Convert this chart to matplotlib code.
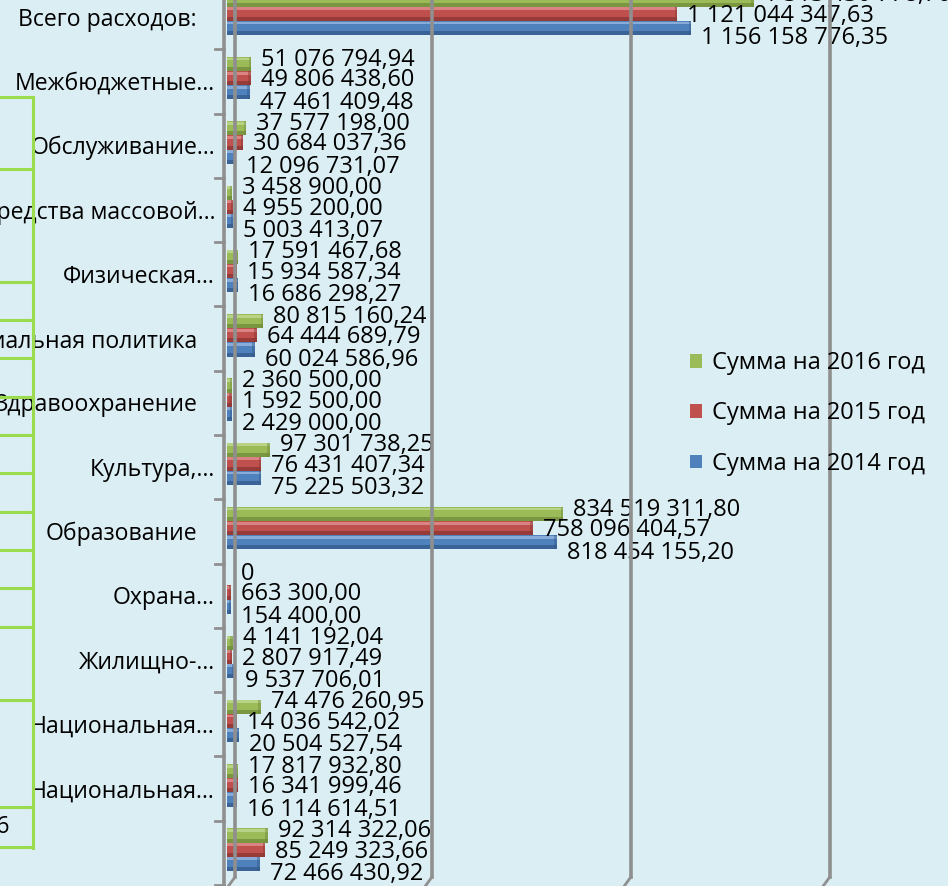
import matplotlib
matplotlib.use("Agg")
import matplotlib.pyplot as plt
import matplotlib.transforms as mtransforms
from matplotlib.lines import Line2D
from matplotlib.patches import Patch

plt.rcParams['font.family'] = ['Open Sans', 'DejaVu Sans']

categories = ["Всего расходов:", "Межбюджетные…", "Обслуживание…", "Средства массовой…",
              "Физическая…", "Социальная политика", "Здравоохранение", "Культура,…",
              "Образование", "Охрана…", "Жилищно-…", "Национальная…", "Национальная…", ""]
truncated = [False, True, True, True, True, False, False, True, False, True, True, True, True, False]

s2016 = [1313430778.70, 51076794.94, 37577198.00, 3458900.00, 17591467.68, 80815160.24,
         2360500.00, 97301738.25, 834519311.80, 0.0, 4141192.04, 74476260.95,
         17817932.80, 92314322.06]
s2015 = [1121044347.63, 49806438.60, 30684037.36, 4955200.00, 15934587.34, 64444689.79,
         1592500.00, 76431407.34, 758096404.57, 663300.00, 2807917.49, 14036542.02,
         16341999.46, 85249323.66]
s2014 = [1156158776.35, 47461409.48, 12096731.07, 5003413.07, 16686298.27, 60024586.96,
         2429000.00, 75225503.32, 818454155.20, 154400.00, 9537706.01, 20504527.54,
         16114614.51, 72466430.92]
series_names = ["Сумма на 2016 год", "Сумма на 2015 год", "Сумма на 2014 год"]
x_grid = [0, 500e6, 1000e6, 1500e6]
x_max = 2000e6

W, H = 948, 886
BG = "#dbeef4"
colors = ["#9bbb59", "#c0504d", "#4f81bd"]
dark = ["#6f8a3a", "#8a3533", "#345b8c"]
light = ["#bcd68a", "#dc8a88", "#8fb0da"]
grid_c = "#8f8f8f"
FS = 17
FS_CAT = 16.6

fig = plt.figure(figsize=(W / 100, H / 100), dpi=100, facecolor=BG)
ax_left, ax_right = 227, 227 + 795.7
ax_top, ax_bot = -15, 885
ax = fig.add_axes([ax_left / W, 1 - ax_bot / H, (ax_right - ax_left) / W, (ax_bot - ax_top) / H])
ax.set_facecolor("none")
ax.set_xlim(0, x_max)
ax.set_ylim(len(categories) - 0.5, -0.5)
ax.axis("off")
px_per_unit = (ax_right - ax_left) / x_max

def figline(xs, ys, **kw):
    fig.add_artist(Line2D([x / W for x in xs], [1 - y / H for y in ys], transform=fig.transFigure, **kw))

# back wall gridlines with floor diagonal
y_floor_px = 877
for v in x_grid:
    off = 8 if v == 0 else 6
    xp = ax_left + v * px_per_unit + off
    figline([xp, xp], [-5, y_floor_px], color=grid_c, lw=2.6, zorder=1)
    figline([xp, xp - 8], [y_floor_px, H + 2], color=grid_c, lw=2.0, zorder=1)

# front axis with ticks at category boundaries
x_front = ax_left - 3
figline([x_front, x_front], [-5, H + 2], color=grid_c, lw=2.6, zorder=2)
for b in range(len(categories) + 1):
    yb = ax_top + b * (ax_bot - ax_top) / len(categories)
    figline([x_front - 9, x_front], [yb, yb], color=grid_c, lw=2.0, zorder=2)

# bars (3D-looking)
bar_off = [-0.27, -0.05, 0.17]
bar_h = 0.22
lab_off = [-0.34, -0.02, 0.33]
cap = 4 / px_per_unit
for k, vals in enumerate([s2016, s2015, s2014]):
    for i, v in enumerate(vals):
        yc = i + bar_off[k]
        if v > 0:
            w = v + cap
            ax.barh(yc, w, height=bar_h, color=colors[k], edgecolor="none", zorder=3)
            ax.barh(yc + bar_h * 0.36, w, height=bar_h * 0.28, color=dark[k], edgecolor="none", zorder=3.1, alpha=0.75)
            ax.barh(yc - bar_h * 0.36, w, height=bar_h * 0.2, color=light[k], edgecolor="none", zorder=3.1, alpha=0.9)
            ax.barh(yc, cap * 0.6, left=w - cap * 0.6, height=bar_h, color=dark[k], edgecolor="none", zorder=3.2, alpha=0.45)
        txt = "0" if v == 0 else f"{v:,.2f}".replace(",", " ").replace(".", ",")
        ax.annotate(txt, xy=(v, i + lab_off[k]), xytext=(14, 0), textcoords="offset pixels",
                    ha="left", va="center", fontsize=FS, color="black", zorder=5)

# category labels
ylab_t = mtransforms.blended_transform_factory(fig.transFigure, ax.transData)
for i, c in enumerate(categories):
    xr = 215 if truncated[i] else 197
    ax.text(xr / W, i + 0.04, c, transform=ylab_t, ha="right", va="center", fontsize=FS_CAT, color="black", zorder=5)

# legend
handles = [Patch(facecolor=c, edgecolor="none") for c in colors]
fig.legend(handles, series_names, loc="upper left", bbox_to_anchor=(690 / W, 1 - 351 / H),
           frameon=False, fontsize=FS, handlelength=0.52, handleheight=0.52, handletextpad=0.4,
           labelspacing=1.12, borderpad=0, borderaxespad=0)

# green table lines on the left
tc = "#9bdc4e"
figline([33, 33], [97, 848], color=tc, lw=2.2, zorder=0.5)
for yy in [97, 169, 282, 320, 358, 397, 435, 473, 512, 550, 588, 627, 700, 807, 847]:
    figline([0, 33], [yy, yy], color=tc, lw=2.2, zorder=0.5)
fig.text(9 / W, 1 - 827 / H, "6", ha="right", va="center", fontsize=FS, color="black")

fig.savefig("out.png", dpi=100, facecolor=BG)
